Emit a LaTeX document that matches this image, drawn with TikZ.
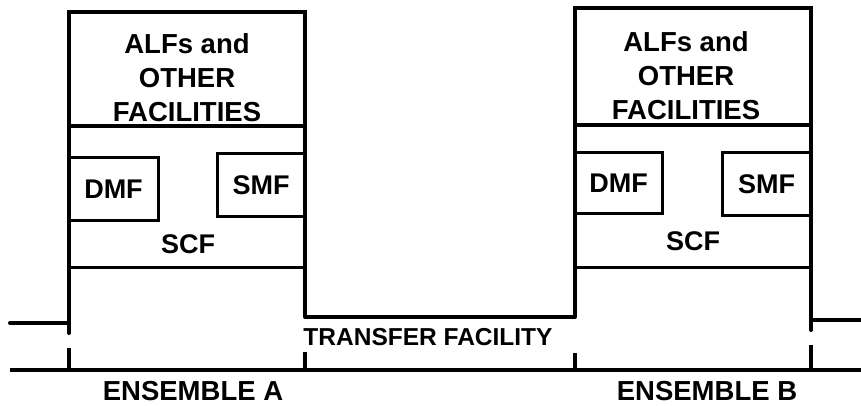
\documentclass[tikz,border=0pt]{standalone}
\usepackage{fontspec}
\setmainfont{Liberation Sans}
\begin{document}
\begin{tikzpicture}[x=1pt,y=-1pt,
  outer/.style={line width=4pt,line cap=round,line join=round},
  inner/.style={draw,line width=3pt,inner sep=0pt,outer sep=0pt},
  lbl/.style={font=\fontsize{27.5}{34}\selectfont\bfseries,align=center,inner sep=0pt},
  smlbl/.style={font=\fontsize{27}{30}\selectfont\bfseries,inner sep=0pt}]
\useasboundingbox (0,0) rectangle (861,406);
% named corner coordinates
\coordinate (Ltl) at (69,12);  \coordinate (Lbl) at (69,333);
\coordinate (Rtl) at (305,12); \coordinate (Rbl) at (305,317);
\coordinate (Ltr) at (575,8);  \coordinate (Lbr) at (575,317);
\coordinate (Rtr) at (811,8);  \coordinate (Rbr) at (811,330);
\coordinate (wl) at (10,323);  \coordinate (wlA) at (69,323);
\coordinate (wr) at (861,320); \coordinate (wrB) at (811,320);
\coordinate (bl) at (10,370);  \coordinate (br) at (861,370);
\coordinate (t1a) at (69,348);  \coordinate (t1b) at (69,370);
\coordinate (t2a) at (305,352); \coordinate (t2b) at (305,370);
\coordinate (t3a) at (575,353); \coordinate (t3b) at (575,370);
\coordinate (t4a) at (811,345); \coordinate (t4b) at (811,370);
% Ensemble A boxes
\node[inner,minimum width=236pt,minimum height=141pt] (scfA) at (187,196.5) {};
\node[inner,line width=3.5pt,minimum width=236pt,minimum height=114pt] (alfA) at (187,69) {};
\node[lbl] (alfAt) at (187,78) {ALFs and\\OTHER\\FACILITIES};
\node[smlbl] (scfAt) at (188,244) {SCF};
\node[inner,minimum width=89pt,minimum height=62pt,smlbl] (dmfA) at (113.5,189) {DMF};
\node[inner,minimum width=88pt,minimum height=62pt,smlbl] (smfA) at (261,185) {SMF};
% Ensemble B boxes
\node[inner,minimum width=236pt,minimum height=142pt] (scfB) at (693,196) {};
\node[inner,line width=3.5pt,minimum width=236pt,minimum height=117pt] (alfB) at (693,66.5) {};
\node[lbl] (alfBt) at (686,76) {ALFs and\\OTHER\\FACILITIES};
\node[smlbl] (scfBt) at (693,241) {SCF};
\node[inner,minimum width=87pt,minimum height=60pt,smlbl] (dmfB) at (618.5,183) {DMF};
\node[inner,minimum width=89pt,minimum height=62pt,smlbl] (smfB) at (766.5,184) {SMF};
% outline
\draw[outer] (Ltl) -- (Lbl);
\draw[outer] (Rtl) -- (Rbl) -- (Lbr) -- (Ltr);
\draw[outer] (Rtr) -- (Rbr);
\draw[outer] (wl) -- (wlA);
\draw[outer] (wrB) -- (wr);
\draw[line width=3.5pt] (bl) -- (br);
\foreach \a/\b in {t1a/t1b,t2a/t2b,t3a/t3b,t4a/t4b} \draw[outer,line cap=butt] (\a) -- (\b);
% labels
\node[font=\fontsize{24.5}{30}\selectfont\bfseries,inner sep=0pt] (tf) at (428,337) {TRANSFER FACILITY};
\node[lbl] (ensA) at (193,391) {ENSEMBLE A};
\node[lbl] (ensB) at (707,391) {ENSEMBLE B};
\end{tikzpicture}
\end{document}
